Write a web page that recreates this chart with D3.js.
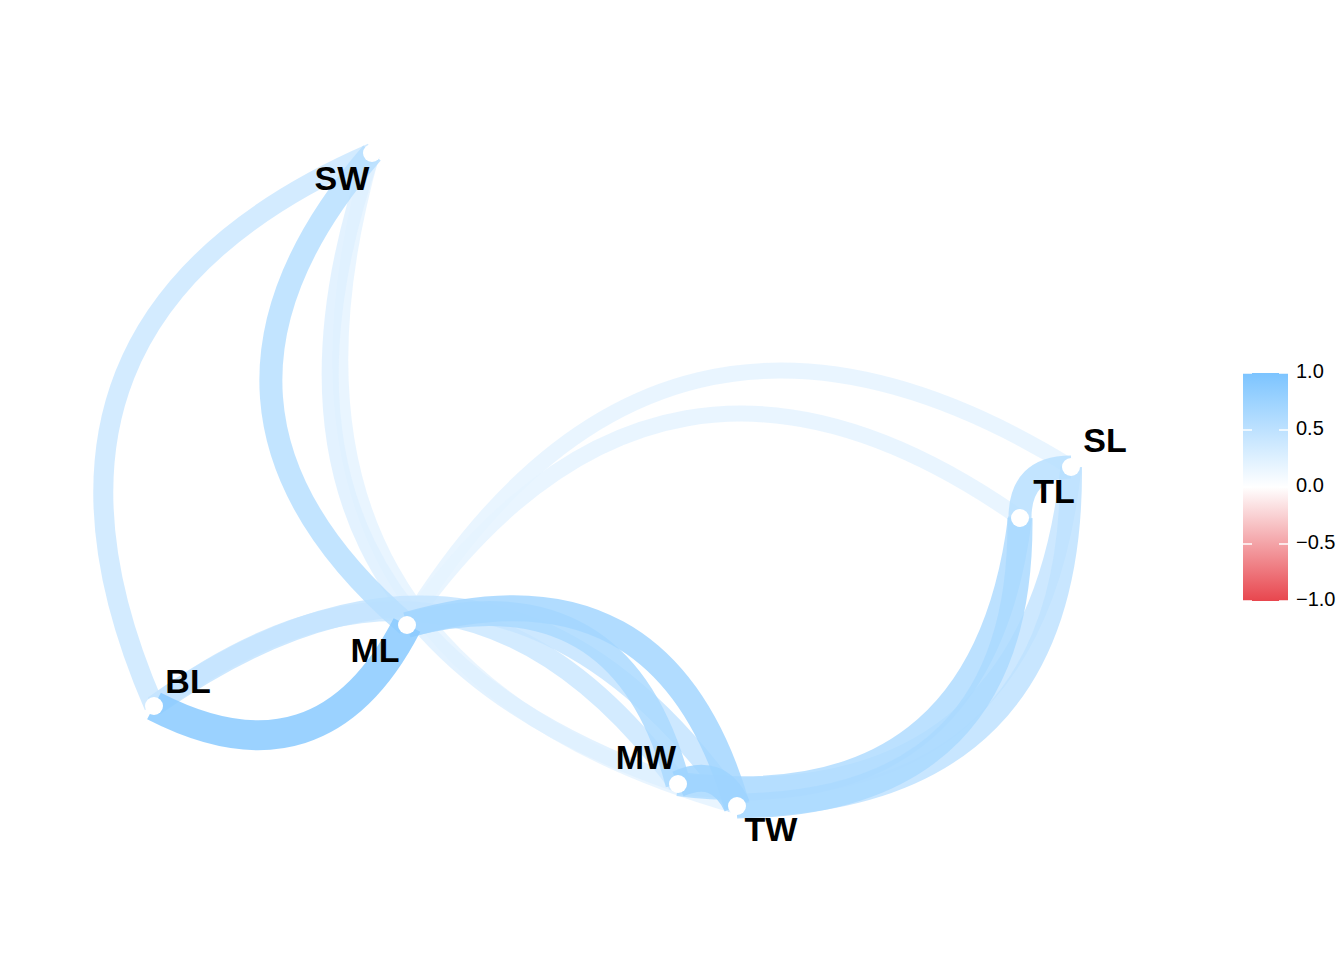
<!DOCTYPE html>
<html><head><meta charset="utf-8">
<script src="https://cdn.jsdelivr.net/npm/d3@7"></script>
<style>body{margin:0;background:#fff}</style>
</head><body>
<svg id="chart" width="1344" height="960"></svg>
<script>
// node layout (multidimensional scaling coords)
var nodes = ["SW", "SL", "TL", "ML", "BL", "MW", "TW"];
var node_x = [0.372, 1.071, 1.020, 0.407, 0.154, 0.678, 0.737];
var node_y = [0.153, 0.467, 0.518, 0.625, 0.706, 0.784, 0.806];
var label_dx = [-30, 34, 34, -32, 34, -32, 34];
var label_dy = [28, -24, -24, 28, -22, -24, 26];

// correlations between pairs
var edge_from = ["BL","ML","ML","MW","SW","BL","SW","SW","BL","BL","ML","ML","TW","TW","MW","MW","TL"];
var edge_to   = ["ML","TW","MW","TW","ML","SW","TW","MW","MW","TW","SL","TL","SL","TL","SL","TL","SL"];
var edge_r    = [0.9,0.7,0.65,0.75,0.55,0.4,0.2,0.25,0.4,0.45,0.2,0.2,0.5,0.65,0.45,0.6,0.55];
var edge_bend = [0.5,-0.5,-0.5,-0.5,0.5,-0.5,0.5,0.5,-0.5,-0.5,-0.5,-0.5,0.5,0.5,0.5,0.5,-0.5];

var legend_ticks = [1.0, 0.5, 0.0, -0.5, -1.0];

var svg = d3.select("#chart");
var x = d3.scaleLinear().domain([0, 1]).range([0, 1000]);
var y = d3.scaleLinear().domain([0, 1]).range([0, 1000]);
var color = d3.scaleLinear().domain([-1, 0, 1]).range(["#e8464e", "#ffffff", "#7cc4ff"]);
var width = d3.scaleLinear().domain([0, 1]).range([12, 32]);

// draw weakest first so strong ones sit on top
var order = d3.range(edge_r.length).sort(function(a, b){ return Math.abs(edge_r[a]) - Math.abs(edge_r[b]); });
order.forEach(function(i){
    var a = nodes.indexOf(edge_from[i]), b = nodes.indexOf(edge_to[i]);
    var x1 = x(node_x[a]), y1 = y(node_y[a]), x2 = x(node_x[b]), y2 = y(node_y[b]);
    var dx = x2 - x1, dy = y2 - y1, k = edge_bend[i];
    var cx = (x1 + x2) / 2 - k * dy, cy = (y1 + y2) / 2 + k * dx;
    var p = d3.path();
    p.moveTo(x1, y1);
    p.quadraticCurveTo(cx, cy, x2, y2);
    svg.append("path")
        .attr("d", p.toString())
        .attr("fill", "none")
        .attr("stroke", color(edge_r[i]))
        .attr("stroke-width", width(Math.abs(edge_r[i])))
        .attr("stroke-opacity", 0.85);
});

// points and labels
nodes.forEach(function(n, i){
    svg.append("circle")
        .attr("cx", x(node_x[i])).attr("cy", y(node_y[i])).attr("r", 9)
        .attr("fill", "#fff");
    svg.append("text")
        .attr("x", x(node_x[i]) + label_dx[i]).attr("y", y(node_y[i]) + label_dy[i])
        .attr("text-anchor", "middle").attr("dominant-baseline", "middle")
        .style("font-family", "Liberation Sans, Arial, sans-serif")
        .style("font-weight", "bold").style("font-size", "34px")
        .text(n);
});

// colour legend
var lx = 1243, lw = 45, ly = d3.scaleLinear().domain([1, -1]).range([373, 601]);
var grad = svg.append("defs").append("linearGradient")
    .attr("id", "gradient").attr("x1", "0%").attr("y1", "0%").attr("x2", "0%").attr("y2", "100%");
[1, 0, -1].forEach(function(v){
    grad.append("stop").attr("offset", ((1 - v) * 50) + "%").attr("stop-color", color(v));
});
svg.append("rect").attr("x", lx).attr("y", ly(1)).attr("width", lw)
    .attr("height", ly(-1) - ly(1)).style("fill", "url(#gradient)");
legend_ticks.forEach(function(t){
    svg.append("line").attr("x1", lx).attr("x2", lx + 9).attr("y1", ly(t)).attr("y2", ly(t))
        .attr("stroke", "#fff").attr("stroke-width", 1.5);
    svg.append("line").attr("x1", lx + lw - 9).attr("x2", lx + lw).attr("y1", ly(t)).attr("y2", ly(t))
        .attr("stroke", "#fff").attr("stroke-width", 1.5);
    svg.append("text").attr("x", lx + lw + 8).attr("y", ly(t))
        .attr("dominant-baseline", "middle")
        .style("font-family", "Liberation Sans, Arial, sans-serif").style("font-size", "20px")
        .text(d3.format(".1f")(t));
});
</script>
</body></html>
